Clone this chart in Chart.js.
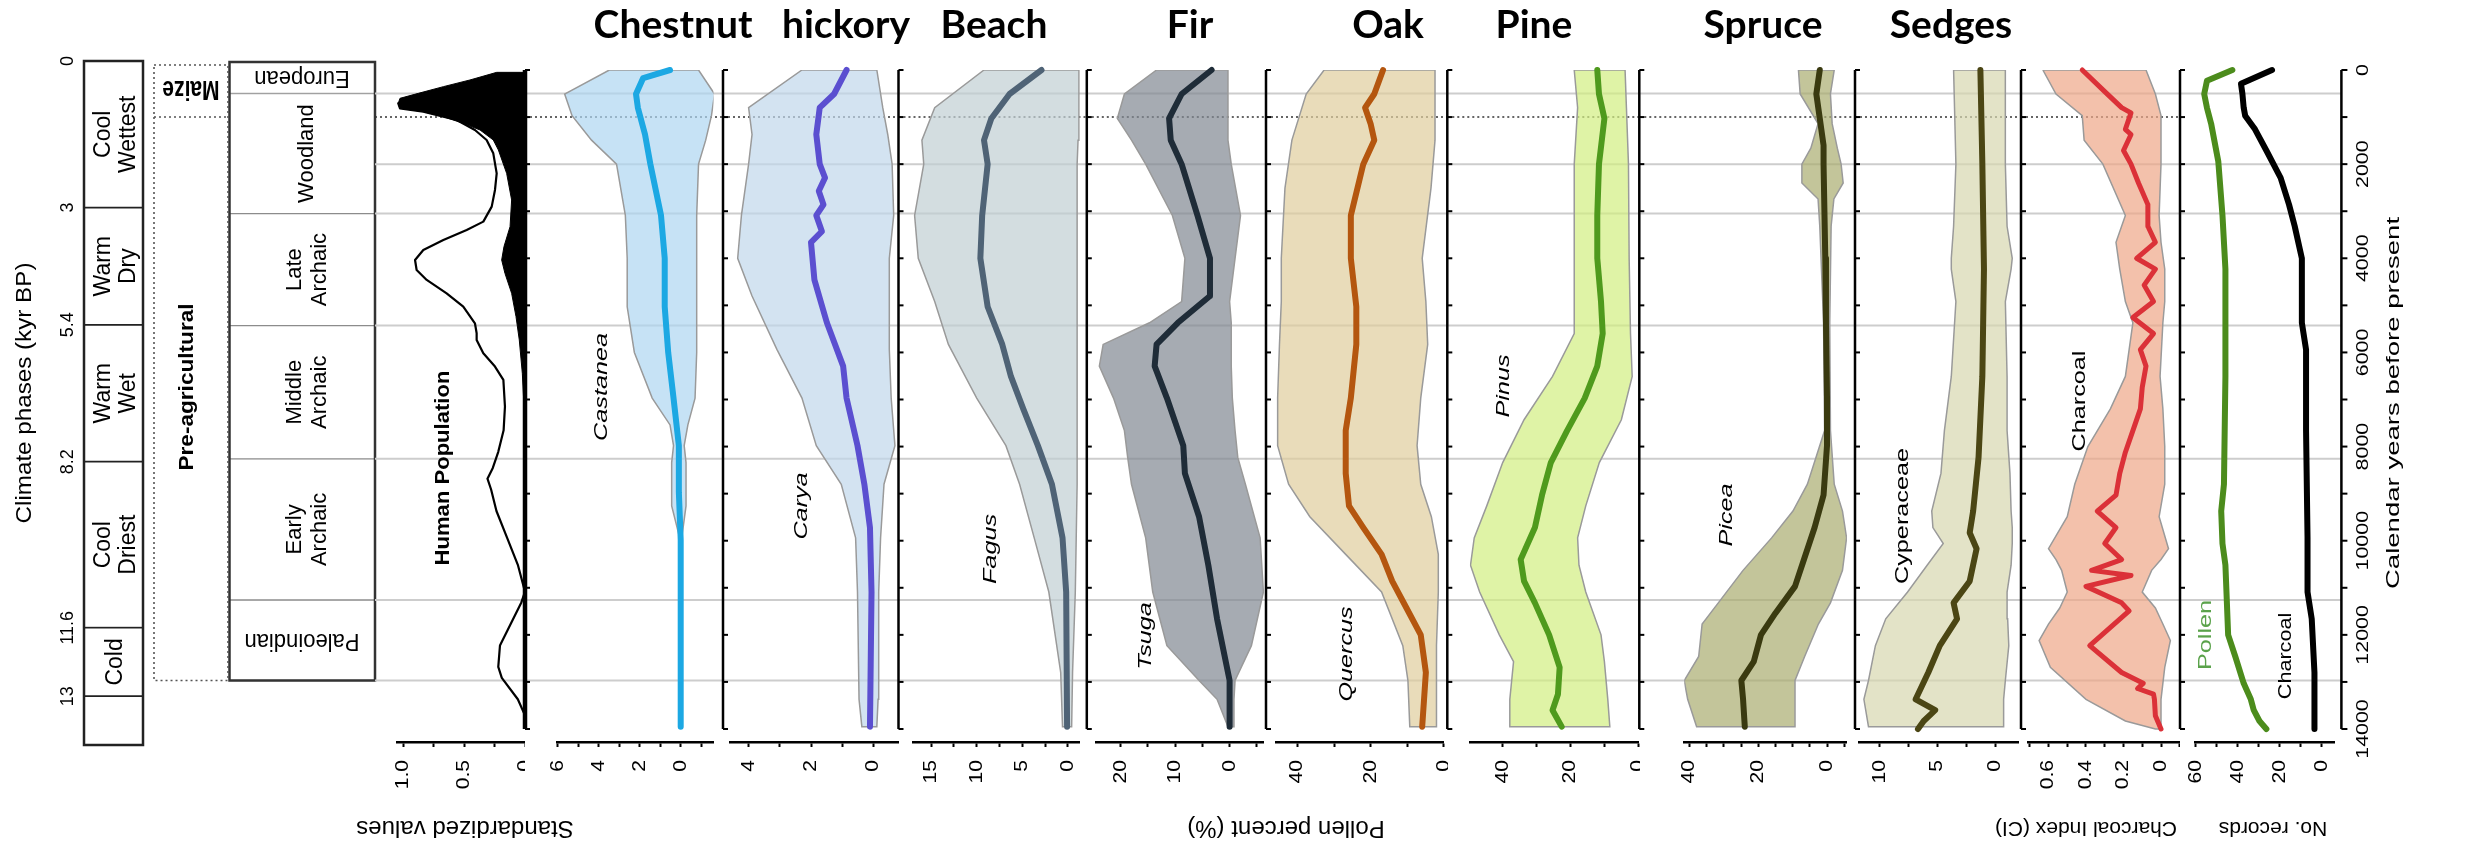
<!DOCTYPE html>
<html>
<head>
<meta charset="utf-8">
<script src="https://cdn.jsdelivr.net/npm/chart.js@4.4.1/dist/chart.umd.min.js"></script>
<style>
  html, body { margin: 0; padding: 0; background: #fff; }
  #page { position: relative; width: 2484px; height: 844px; overflow: hidden; background: #fff; }
  #page canvas { position: absolute; top: 0; }
</style>
</head>
<body>
<div id="page"></div>
<script>
// ---------------- data (years before present / values) ----------------
const gridYears = [500, 2000, 3050, 5430, 8260, 11260, 12970];
const maizeYear = 1000;
const yearTickMarks = [0, 1000, 2000, 3000, 4000, 5000, 6000, 7000, 8000, 9000, 10000, 11000, 12000, 13000, 14000];
const yearLabels = [0, 2000, 4000, 6000, 8000, 10000, 12000, 14000];

const climateBounds = [0, 3, 5.4, 8.2, 11.6, 13, 14];
const climateNames = ['Cool\nWettest', 'Warm\nDry', 'Warm\nWet', 'Cool\nDriest', 'Cold', ''];
const climateTickLabels = [0, 3, 5.4, 8.2, 11.6, 13];

const cultureEnds = [500, 3050, 5430, 8260, 11260, 12970];
const cultureNames = ['European', 'Woodland', 'Late\nArchaic', 'Middle\nArchaic', 'Early\nArchaic', 'Paleoindian'];

const taxaTitles = ['Chestnut', 'hickory', 'Beach', 'Fir', 'Oak', 'Pine', 'Spruce', 'Sedges'];
const axisTitles = ['Standardized values', 'Pollen percent (%)', 'Charcoal Index (CI)', 'No. records'];

const humanDatedYears = [50, 212, 354, 496, 602, 708, 814, 885, 991, 1133, 1274, 1487, 1699, 2195, 2761, 3328, 3752, 4036, 4319, 4744, 5239, 5735, 6443, 7151, 9000, 13800];
const humanDated = [0.233, 0.453, 0.672, 0.878, 1.029, 1.043, 1.029, 0.837, 0.672, 0.508, 0.37, 0.261, 0.219, 0.151, 0.11, 0.123, 0.173, 0.192, 0.165, 0.11, 0.074, 0.047, 0.022, 0.008, 0.004, 0.003];
const humanAllYears = [708, 814, 885, 991, 1062, 1274, 1487, 1770, 2195, 2549, 2903, 3221, 3398, 3611, 3823, 4036, 4248, 4460, 4744, 5027, 5381, 5593, 5735, 6018, 6301, 6584, 7151, 7655, 8112, 8454, 8683, 8912, 9369, 9940, 10512, 11083, 11312, 11769, 12226, 12682, 12912, 13368, 13710];
const humanAll = [1.043, 1.029, 0.837, 0.672, 0.562, 0.412, 0.316, 0.261, 0.233, 0.247, 0.274, 0.343, 0.48, 0.672, 0.837, 0.905, 0.892, 0.809, 0.645, 0.508, 0.412, 0.398, 0.398, 0.343, 0.247, 0.178, 0.165, 0.176, 0.22, 0.265, 0.309, 0.279, 0.235, 0.147, 0.059, 0, 0.03, 0.118, 0.206, 0.22, 0.191, 0.059, 0];

const chestnutYears = [0, 170, 510, 800, 1370, 2000, 3090, 4000, 5030, 6000, 6970, 7980, 8970, 9980, 13950];
const chestnutMedian = [0.52, 1.83, 2.18, 2.09, 1.74, 1.48, 0.96, 0.78, 0.78, 0.61, 0.35, 0.09, 0.09, 0, 0];
const chestnutEnvYears = [0, 510, 970, 1490, 2000, 3090, 4000, 5030, 6000, 6970, 7540, 7980, 8340, 9260, 9940, 13950];
const chestnutMax = [3.48, 5.66, 5.3, 4.35, 3.13, 2.7, 2.61, 2.61, 2.26, 1.39, 0.52, 0.35, 0.44, 0.44, 0.05, 0.05];
const chestnutMin = [-0.87, -1.65, -1.5, -1.22, -0.87, -0.78, -0.78, -0.78, -0.78, -0.7, -0.35, -0.17, -0.26, -0.26, -0.05, -0.05];

const hickoryYears = [0, 510, 800, 1370, 2000, 2290, 2570, 2860, 3090, 3430, 3660, 4460, 5370, 6290, 6970, 7980, 8800, 9720, 11090, 13950];
const hickoryMedian = [0.86, 1.26, 1.72, 1.83, 1.72, 1.55, 1.75, 1.6, 1.83, 1.65, 2.0, 1.89, 1.49, 0.97, 0.86, 0.51, 0.29, 0.11, 0.06, 0.11];
const hickoryEnvYears = [0, 800, 1370, 2000, 3090, 4000, 4800, 5940, 6970, 7980, 8800, 9940, 11090, 13370, 13950];
const hickoryMax = [2.29, 4.0, 3.89, 4.0, 4.23, 4.35, 3.89, 3.09, 2.29, 1.83, 1.03, 0.57, 0.51, 0.46, 0.37];
const hickoryMin = [-0.11, -0.3, -0.46, -0.6, -0.65, -0.51, -0.51, -0.51, -0.57, -0.69, -0.34, -0.23, -0.17, -0.15, -0.11];

const beachYears = [0, 510, 1030, 1490, 2000, 3090, 4000, 5030, 5830, 6510, 7200, 7980, 8800, 9940, 11090, 13950];
const beachMedian = [2.9, 6.4, 8.4, 9.2, 8.8, 9.4, 9.6, 8.8, 7.2, 6.25, 4.9, 3.3, 1.76, 0.6, 0.2, 0.1];
const beachEnvYears = [0, 800, 1490, 2000, 3090, 4000, 4920, 5830, 6970, 7980, 8800, 9940, 11090, 12800, 13950];
const beachMax = [9.2, 14.6, 16, 15.8, 16.8, 16.4, 14.6, 13.1, 10, 6.8, 5.3, 3.7, 2.1, 0.8, 0.6];
const beachMin = [-1.2, -1.2, -1.1, -1.0, -1.0, -1.0, -1.0, -1.0, -1.0, -1.0, -1.0, -0.9, -0.8, -0.5, -0.4];

const firYears = [0, 510, 1030, 1490, 2000, 3090, 4000, 4800, 5370, 5830, 6290, 6970, 7980, 8570, 9490, 10520, 11660, 12970, 13950];
const firMedian = [3.3, 8.8, 11.1, 10.8, 8.8, 5.9, 3.6, 3.6, 9.5, 13.4, 13.75, 11.5, 8.5, 8.2, 5.6, 3.9, 2.3, 0, 0];
const firEnvYears = [0, 510, 1030, 1490, 2000, 3090, 4000, 4920, 5370, 5830, 6290, 6970, 7660, 8230, 8800, 9940, 11090, 12230, 12970, 13370, 13950];
const firMax = [13.4, 19.3, 20.6, 18, 15.4, 10.5, 8.2, 8.8, 14.7, 23.2, 23.9, 21.3, 19.3, 18.7, 18, 15.4, 14.1, 11.5, 5.6, 2.3, 0.3];
const firMin = [0.3, 0.3, 0.3, 0.3, -0.3, -2.0, -1.0, 0, -0.3, -0.3, -0.3, -0.5, -1.0, -1.5, -2.9, -5.6, -6.2, -4.0, -1.0, -0.8, -0.65];

const oakYears = [0, 510, 800, 1140, 1490, 2000, 3090, 4000, 5030, 5830, 6970, 7660, 8570, 9260, 9720, 10290, 10860, 11430, 12000, 12800, 13950];
const oakMedian = [16.6, 19.0, 21.5, 20.0, 19.0, 22.0, 25.4, 25.4, 23.9, 23.9, 25.4, 26.8, 26.8, 25.9, 22.0, 17.0, 14.1, 10.2, 6.3, 4.9, 5.9];
const oakEnvYears = [0, 510, 1490, 2510, 4000, 4920, 5830, 6970, 7980, 8800, 9490, 10290, 11090, 12230, 12970, 13950];
const oakMax = [32.7, 37.6, 41.5, 43.4, 44.4, 44.4, 44.9, 45.4, 45.4, 42.4, 36.6, 26.8, 17, 11.2, 9.8, 9.3];
const oakMin = [2.4, 2.4, 2.4, 3.5, 5.9, 4.9, 4.4, 6.3, 7.3, 6.3, 3.4, 1.5, 1.5, 2, 2, 2];

const pineYears = [0, 510, 1030, 2000, 3090, 4000, 4920, 5600, 6290, 6970, 7660, 8340, 9030, 9720, 10400, 10860, 11320, 12000, 12690, 13260, 13600, 13950];
const pineMedian = [12.1, 11.6, 10.0, 11.6, 12.1, 12.1, 11.0, 10.5, 12.1, 15.8, 21.0, 25.8, 28.4, 30.5, 34.7, 33.7, 30.5, 26.3, 23.2, 23.7, 25.3, 22.6];
const pineEnvYears = [0, 800, 2000, 4000, 5600, 6510, 7430, 8340, 9260, 9940, 10520, 11090, 12000, 12570, 13370, 13950];
const pineMax = [18.9, 17.9, 18.9, 18.9, 18.9, 25.3, 33.7, 40, 44.7, 48.4, 49.5, 46.8, 41, 36.8, 37.9, 37.9];
const pineMin = [3.9, 3.5, 2.9, 2.7, 2.3, 1.8, 5.0, 11.5, 15.5, 17.9, 17.5, 15.5, 11.0, 10, 9, 8.4];

const spruceYears = [0, 510, 1030, 1600, 2000, 4000, 5370, 6970, 7980, 9030, 9720, 10400, 10970, 11540, 12000, 12570, 12970, 13370, 13950];
const spruceMedian = [2.1, 3.1, 2.1, 1.0, 1.0, 0.5, 0.3, 0, 0, 1.0, 3.6, 6.7, 9.3, 15, 19.2, 21.3, 24.9, 24.4, 23.9];
const spruceEnvYears = [0, 510, 1140, 1660, 2000, 2400, 2740, 3320, 5370, 7660, 8800, 9370, 9940, 10630, 11320, 11770, 12460, 12970, 13370, 13950];
const spruceMax = [8.3, 7.8, 2.6, 4.7, 7.3, 7.3, 2.6, 2.1, 1.0, 0.7, 5.7, 9.9, 16.1, 24.4, 31.6, 36.3, 37.3, 41.5, 40.5, 37.9];
const spruceMin = [-2.1, -1.0, -1.5, -3.0, -4.1, -4.7, -2.0, -1.2, -0.8, -1.0, -2.1, -4.5, -5.7, -4.5, -1.0, 2.5, 6.5, 9.3, 9.3, 9.3];

const sedgesYears = [0, 2000, 4230, 6510, 8230, 9370, 9830, 10170, 10860, 11320, 11660, 12230, 12800, 13370, 13600, 13830, 14000];
const sedgesMedian = [1.27, 1.1, 0.96, 1.1, 1.43, 1.9, 2.2, 1.6, 2.2, 3.6, 3.3, 4.8, 5.8, 6.9, 5.2, 6.2, 6.7];
const sedgesEnvYears = [0, 2000, 3320, 4000, 4230, 4920, 6510, 7660, 8570, 9370, 9720, 10060, 10520, 11090, 11660, 12230, 12970, 13370, 13950];
const sedgesMax = [3.6, 3.4, 3.6, 3.8, 3.8, 3.4, 3.8, 4.4, 4.7, 5.5, 5.4, 4.5, 5.9, 7.6, 9.5, 10.4, 11, 11.4, 11];
const sedgesMin = [-0.9, -0.9, -1.05, -1.5, -1.4, -0.9, -1.05, -1.05, -1.3, -1.4, -1.5, -1.5, -1.4, -1.05, -1.1, -1.2, -0.9, -0.75, -0.75];

const charcoalYears = [0, 460, 800, 910, 1260, 1370, 1710, 2000, 2400, 2860, 3320, 3660, 4000, 4230, 4570, 4920, 5260, 5600, 5940, 6290, 6740, 7200, 7660, 8120, 8570, 9030, 9370, 9720, 10060, 10400, 10630, 10740, 10970, 11320, 11490, 12230, 12800, 13030, 13140, 13260, 13370, 13720, 14000];
const charcoalMedian = [0.42, 0.30, 0.21, 0.16, 0.19, 0.16, 0.20, 0.16, 0.12, 0.07, 0.07, 0.03, 0.13, 0.03, 0.09, 0.04, 0.15, 0.04, 0.11, 0.08, 0.10, 0.11, 0.15, 0.19, 0.22, 0.24, 0.34, 0.24, 0.30, 0.21, 0.37, 0.16, 0.40, 0.21, 0.17, 0.38, 0.21, 0.095, 0.125, 0.04, 0.035, 0.03, 0.0];
const charcoalEnvYears = [0, 510, 970, 1490, 2000, 3090, 3660, 4230, 4920, 5370, 6510, 7200, 8000, 8800, 9490, 10170, 10400, 10630, 11090, 11430, 11770, 12120, 12690, 13370, 13830, 14000];
const charcoalMax = [0.63, 0.56, 0.42, 0.41, 0.31, 0.19, 0.24, 0.22, 0.19, 0.15, 0.19, 0.27, 0.39, 0.46, 0.50, 0.60, 0.56, 0.53, 0.50, 0.54, 0.60, 0.65, 0.59, 0.40, 0.19, 0.03];
const charcoalMin = [0.08, 0.03, 0, 0, 0, 0.01, 0, -0.02, -0.02, -0.01, 0.005, -0.01, -0.02, -0.02, 0.01, -0.04, 0.0, 0.05, 0.1, 0.03, -0.01, -0.05, -0.02, 0.0, 0.0, 0.0];

const pollenRecordYears = [0, 230, 510, 800, 1140, 1940, 3090, 4230, 6510, 8800, 9370, 10060, 10520, 12000, 12460, 13030, 13370, 13600, 13830, 14000];
const pollenRecords = [42.5, 54.6, 55.9, 54.6, 52.6, 49.2, 47.2, 45.8, 45.8, 46.5, 47.8, 47.2, 45.8, 44.5, 41.1, 37.1, 33.7, 32.3, 29.6, 26.3];
const charcoalRecordYears = [0, 290, 510, 800, 970, 1260, 1710, 2290, 2860, 3320, 4000, 5370, 5940, 7660, 9940, 11090, 11660, 12800, 14000];
const charcoalRecords = [23.6, 38.4, 37.7, 37.1, 36.4, 31.7, 26.3, 19.5, 15.5, 12.8, 9.4, 9.4, 7.4, 7.4, 6.7, 6.7, 4.7, 3.4, 3.4];

// ---------------- layout ----------------
const PAGE_W = 2484, PAGE_H = 844;
const Y_TOP = 70;                  // pixel row of year 0
const PX_PER_YEAR = 659 / 14000;
const AXIS_Y = 742;                // bottom value axes
const AXIS_H = 60;
const YEAR_MAX = (AXIS_Y - Y_TOP) / PX_PER_YEAR;
const SANS = '"Liberation Sans", Arial, Helvetica, sans-serif';
const TITLE_FONT = 'Lato, "Open Sans", sans-serif';
const GRID_COLOR = '#cdcdcd';
const titleX = [673, 846, 994, 1190, 1388, 1534, 1763, 1951];
const axisTitleX = [465, 1286, 2086, 2273];
const axisTitleSize = [24, 24, 21, 21];
const TICK_FONT = { size: 18, rot: -90, sx: 1.17, align: 'right' };

function addCanvas(left, width) {
  const c = document.createElement('canvas');
  c.width = Math.round(width);
  c.height = PAGE_H;
  c.style.left = left + 'px';
  c.style.width = Math.round(width) + 'px';
  c.style.height = PAGE_H + 'px';
  document.getElementById('page').appendChild(c);
  return c;
}

function baseOptions(extra) {
  return Object.assign({
    responsive: false, animation: false, events: [], devicePixelRatio: 1,
    plugins: { legend: { display: false }, tooltip: { enabled: false } }
  }, extra);
}

function drawText(ctx, str, x, y, o) {
  const lines = String(str).split('\n');
  const lh = o.lh || o.size * 1.1;
  const sy = o.sy || 1;
  ctx.save();
  ctx.translate(x, y);
  ctx.rotate((o.rot || 0) * Math.PI / 180);
  ctx.scale(o.sx || 1, sy);
  ctx.font = (o.italic ? 'italic ' : '') + (o.bold ? 'bold ' : '') + o.size + 'px ' + (o.family || SANS);
  ctx.fillStyle = o.color || '#000';
  ctx.textAlign = o.align || 'center';
  ctx.textBaseline = o.baseline || 'middle';
  lines.forEach((ln, i) => ctx.fillText(ln, 0, (i - (lines.length - 1) / 2) * lh / sy));
  ctx.restore();
}

function seg(ctx, x1, y1, x2, y2) {
  ctx.beginPath();
  ctx.moveTo(x1, y1);
  ctx.lineTo(x2, y2);
  ctx.stroke();
}

function bandDataset(years, hi, lo, color) {
  const pts = years.map((y, i) => ({ x: hi[i], y: y }));
  for (let i = years.length - 1; i >= 0; i--) pts.push({ x: lo[i], y: years[i] });
  pts.push({ x: hi[0], y: years[0] });
  return { data: pts, fill: 'shape', backgroundColor: color, borderColor: '#9a9a9a', borderWidth: 1.5, pointRadius: 0, tension: 0 };
}

function lineDataset(years, vals, color, width) {
  return { data: years.map((y, i) => ({ x: vals[i], y: y })), borderColor: color, borderWidth: width, pointRadius: 0,
           fill: false, tension: 0, borderJoinStyle: 'round', borderCapStyle: 'round', clip: false };
}

function fmtTick(v, digits) {
  if (Math.abs(v) < 1e-9) return '0';
  return digits ? v.toFixed(digits) : String(Math.round(v));
}

function panelDecor(p, left) {
  const L = v => v - left;
  return {
    id: 'panelDecor',
    beforeDatasetsDraw(chart) {
      const ctx = chart.ctx, ys = chart.scales.y;
      ctx.save();
      ctx.strokeStyle = GRID_COLOR;
      ctx.lineWidth = 2;
      gridYears.forEach(yr => { const py = ys.getPixelForValue(yr); seg(ctx, L(p.gridStart), py, L(p.gridEnd), py); });
      if (p.maize) {
        ctx.strokeStyle = '#333';
        ctx.lineWidth = 1.6;
        ctx.setLineDash([2, 3]);
        const py = ys.getPixelForValue(maizeYear);
        seg(ctx, L(p.gridStart), py, L(p.gridEnd), py);
      }
      ctx.restore();
    },
    afterDatasetsDraw(chart) {
      const ctx = chart.ctx, ys = chart.scales.y, xs = chart.scales.x;
      const y0 = ys.getPixelForValue(0), y1 = ys.getPixelForValue(14000);
      ctx.save();
      ctx.strokeStyle = '#000';
      if (p.axisW) {
        const ax = L(p.gridStart);
        ctx.lineWidth = p.axisW;
        seg(ctx, ax, y0, ax, y1);
        ctx.lineWidth = 2;
        yearTickMarks.forEach(yr => { const py = ys.getPixelForValue(yr); seg(ctx, ax, py, ax + 5, py); });
      }
      if (p.rightAxisX) {
        const ax = L(p.rightAxisX);
        ctx.lineWidth = 2.5;
        seg(ctx, ax, y0, ax, y1);
        ctx.lineWidth = 2;
        yearTickMarks.forEach(yr => { const py = ys.getPixelForValue(yr); seg(ctx, ax, py, ax + 6, py); });
        yearLabels.forEach(yr => drawText(ctx, yr, L(2363), ys.getPixelForValue(yr), { size: 17, rot: -90, sx: 1.26 }));
        drawText(ctx, 'Calendar years before present', L(2394), 403, { size: 19, rot: -90, sx: 1.45 });
      }
      ctx.restore();
      xs.ticks.forEach(t => {
        const k = t.value / p.labelStep;
        if (Math.abs(k - Math.round(k)) > 1e-6) return;
        drawText(ctx, fmtTick(t.value, p.digits), xs.getPixelForValue(t.value), chart.chartArea.bottom + 18, TICK_FONT);
      });
      (p.labels || []).forEach(l => drawText(ctx, l.text, L(l.x), l.y,
        { size: l.size || 18, rot: -90, sx: l.sx || 1.4, italic: l.italic, bold: l.bold, color: l.color }));
    }
  };
}

function buildPanel(p) {
  const xa = p.zero - p.max * p.ppu;
  const xb = p.zero - p.min * p.ppu;
  const left = Math.floor(Math.min(p.gridStart - 8, xa));
  const right = Math.ceil(Math.max(p.gridEnd, xb, p.canvasRight || 0));
  const canvas = addCanvas(left, right - left);
  return new Chart(canvas, {
    type: 'line',
    data: { datasets: p.datasets },
    options: baseOptions({
      layout: { padding: { left: xa - left, right: right - xb, top: Y_TOP, bottom: PAGE_H - AXIS_Y - AXIS_H } },
      scales: {
        x: {
          type: 'linear', reverse: true, min: p.min, max: p.max,
          afterFit: s => { s.height = AXIS_H; },
          ticks: { display: false, stepSize: p.step, includeBounds: false, autoSkip: false },
          grid: { drawOnChartArea: false, drawTicks: true, tickLength: 5, tickWidth: 2, tickColor: '#000' },
          border: { display: true, color: '#000', width: 2.5 }
        },
        y: { type: 'linear', reverse: true, min: 0, max: YEAR_MAX, display: false }
      }
    }),
    plugins: [panelDecor(p, left)]
  });
}

// ---------------- frame: titles ----------------
new Chart(addCanvas(0, PAGE_W), {
  type: 'line',
  data: { datasets: [] },
  options: baseOptions({ scales: { x: { display: false }, y: { display: false } } }),
  plugins: [{
    id: 'frameText',
    afterDraw(chart) {
      const ctx = chart.ctx;
      taxaTitles.forEach((t, i) => drawText(ctx, t, titleX[i], 38, { size: 39, bold: true, family: TITLE_FONT, baseline: 'alphabetic' }));
      axisTitles.forEach((t, i) => drawText(ctx, t, axisTitleX[i], 828, { size: axisTitleSize[i], rot: 180 }));
    }
  }]
});

// ---------------- climate phases table ----------------
(function () {
  const left = 0, width = 150;
  new Chart(addCanvas(left, width), {
    type: 'bar',
    data: {
      labels: ['phase'],
      datasets: climateNames.map((n, i) => ({
        data: [[climateBounds[i], climateBounds[i + 1]]],
        backgroundColor: '#fff', borderColor: '#222',
        borderWidth: { top: 1.2, bottom: 1.2, left: 0, right: 0 }, borderSkipped: false,
        grouped: false, barPercentage: 1, categoryPercentage: 1
      }))
    },
    options: baseOptions({
      layout: { padding: { left: 84, right: width - 143, top: 61, bottom: PAGE_H - 745 } },
      scales: { x: { display: false }, y: { display: false, reverse: true, min: 0, max: 14 } }
    }),
    plugins: [{
      id: 'climateDecor',
      afterDatasetsDraw(chart) {
        const ctx = chart.ctx, a = chart.chartArea, ys = chart.scales.y;
        ctx.save();
        ctx.strokeStyle = '#222';
        ctx.lineWidth = 2.5;
        ctx.strokeRect(a.left, a.top, a.right - a.left, a.bottom - a.top);
        ctx.restore();
        climateNames.forEach((n, i) => {
          if (!n) return;
          const cy = (ys.getPixelForValue(climateBounds[i]) + ys.getPixelForValue(climateBounds[i + 1])) / 2;
          drawText(ctx, n, 116, cy, { size: 23, rot: -90, lh: 25 });
        });
        climateTickLabels.forEach(v => drawText(ctx, v, 68, ys.getPixelForValue(v), { size: 18, rot: -90 }));
        drawText(ctx, 'Climate phases (kyr BP)', 25, 393, { size: 22, rot: -90, sx: 1.1 });
      }
    }]
  });
})();

// ---------------- cultural periods + pre-agricultural box ----------------
(function () {
  const left = 148, width = 232;
  const cultMin = -8 / PX_PER_YEAR;
  const L = v => v - left;
  new Chart(addCanvas(left, width), {
    type: 'bar',
    data: {
      labels: ['period'],
      datasets: cultureNames.map((n, i) => ({
        data: [[i === 0 ? cultMin : cultureEnds[i - 1], cultureEnds[i]]],
        backgroundColor: '#fff', borderColor: '#8c8c8c',
        borderWidth: { top: 1, bottom: 1, left: 0, right: 0 }, borderSkipped: false,
        grouped: false, barPercentage: 1, categoryPercentage: 1
      }))
    },
    options: baseOptions({
      layout: { padding: { left: 229.5 - left, right: left + width - 375, top: 62, bottom: PAGE_H - AXIS_Y } },
      scales: { x: { display: false }, y: { display: false, reverse: true, min: cultMin, max: YEAR_MAX } }
    }),
    plugins: [{
      id: 'cultureDecor',
      afterDatasetsDraw(chart) {
        const ctx = chart.ctx, a = chart.chartArea, ys = chart.scales.y;
        const bottom = ys.getPixelForValue(cultureEnds[cultureEnds.length - 1]);
        ctx.save();
        ctx.strokeStyle = '#333';
        ctx.lineWidth = 2.5;
        ctx.strokeRect(a.left, a.top, a.right - a.left, bottom - a.top);
        // dotted pre-agricultural box with the maize line
        ctx.strokeStyle = '#555';
        ctx.lineWidth = 1.6;
        ctx.setLineDash([2, 3]);
        ctx.strokeRect(L(154), a.top + 3, 74, bottom - a.top - 3);
        const my = ys.getPixelForValue(maizeYear);
        seg(ctx, L(154), my, L(228), my);
        ctx.restore();
        cultureNames.forEach((n, i) => {
          const top = i === 0 ? a.top : ys.getPixelForValue(cultureEnds[i - 1]);
          const cy = (top + ys.getPixelForValue(cultureEnds[i])) / 2;
          const flipped = i === 0 || i === cultureNames.length - 1;
          if (flipped) drawText(ctx, n, L(302), cy, { size: 22, rot: 180, sy: 1.1 });
          else drawText(ctx, n, L(307), cy, { size: 22, rot: -90, lh: 25 });
        });
        drawText(ctx, 'Maize', L(191), 89, { size: 21, bold: true, rot: 180, sy: 1.35 });
        drawText(ctx, 'Pre-agricultural', L(187), 387, { size: 20, bold: true, rot: -90, sx: 1.13 });
      }
    }]
  });
})();

// ---------------- human population ----------------
(function () {
  const pts = humanDatedYears.map((y, i) => ({ x: humanDated[i], y: y }));
  pts.push({ x: 0, y: humanDatedYears[humanDatedYears.length - 1] }, { x: 0, y: humanDatedYears[0] }, { x: humanDated[0], y: humanDatedYears[0] });
  buildPanel({
    gridStart: 375, gridEnd: 525, maize: true,
    zero: 525, ppu: 121.5, min: 0, max: 1.05, step: 0.25, labelStep: 0.5, digits: 1,
    // Chart.js paints the first dataset last, so the outline sits on top of the filled area
    datasets: [
      lineDataset(humanAllYears, humanAll, '#000', 2.2),
      { data: pts, fill: 'shape', backgroundColor: '#000', borderColor: '#000', borderWidth: 1, pointRadius: 0, tension: 0 }
    ],
    labels: [{ text: 'Human Population', x: 443, y: 468, bold: true, size: 21, sx: 1.05 }]
  });
})();

// ---------------- pollen / charcoal panels ----------------
const panelSpecs = [
  { gridStart: 525, gridEnd: 723, axisW: 4.5, zero: 680.7, ppu: 20.5, min: -1.6, max: 6.0, step: 1, labelStep: 2,
    band: 'rgba(174,214,241,0.7)', color: '#1ca8e3',
    y: chestnutYears, v: chestnutMedian, ey: chestnutEnvYears, hi: chestnutMax, lo: chestnutMin,
    labels: [{ text: 'Castanea', x: 602, y: 387, italic: true }] },
  { gridStart: 723, gridEnd: 898.5, axisW: 2.5, zero: 873.4, ppu: 31.2, min: -0.8, max: 4.6, step: 1, labelStep: 2,
    band: 'rgba(192,215,235,0.7)', color: '#5b4fd0',
    y: hickoryYears, v: hickoryMedian, ey: hickoryEnvYears, hi: hickoryMax, lo: hickoryMin,
    labels: [{ text: 'Carya', x: 802, y: 506, italic: true }] },
  { gridStart: 898.5, gridEnd: 1086.8, axisW: 2.5, zero: 1068, ppu: 9.13, min: -1.3, max: 17, step: 2.5, labelStep: 5,
    band: 'rgba(192,206,211,0.7)', color: '#4f6376',
    y: beachYears, v: beachMedian, ey: beachEnvYears, hi: beachMax, lo: beachMin,
    labels: [{ text: 'Fagus', x: 991, y: 549, italic: true }] },
  { gridStart: 1086.8, gridEnd: 1266, axisW: 2.5, zero: 1229.6, ppu: 5.45, min: -6.3, max: 24.5, step: 5, labelStep: 10,
    band: 'rgba(128,135,146,0.7)', color: '#1f2c38',
    y: firYears, v: firMedian, ey: firEnvYears, hi: firMax, lo: firMin,
    labels: [{ text: 'Tsuga', x: 1146, y: 636, italic: true }] },
  { gridStart: 1266, gridEnd: 1447.3, axisW: 2.5, zero: 1443.8, ppu: 3.66, min: 0, max: 45.9, step: 10, labelStep: 20,
    band: 'rgba(224,205,156,0.7)', color: '#b4560f',
    y: oakYears, v: oakMedian, ey: oakEnvYears, hi: oakMax, lo: oakMin,
    labels: [{ text: 'Quercus', x: 1347, y: 654, italic: true }] },
  { gridStart: 1447.3, gridEnd: 1639.3, axisW: 2.5, zero: 1638.3, ppu: 3.39, min: 0, max: 49.7, step: 10, labelStep: 20,
    band: 'rgba(209,238,128,0.7)', color: '#4f9a1d',
    y: pineYears, v: pineMedian, ey: pineEnvYears, hi: pineMax, lo: pineMin,
    labels: [{ text: 'Pinus', x: 1504, y: 386, italic: true }] },
  { gridStart: 1639.3, gridEnd: 1855, axisW: 2.5, zero: 1827, ppu: 3.44, min: -5.8, max: 41.5, step: 5, labelStep: 20,
    band: 'rgba(169,172,111,0.7)', color: '#3a3a10',
    y: spruceYears, v: spruceMedian, ey: spruceEnvYears, hi: spruceMax, lo: spruceMin,
    labels: [{ text: 'Picea', x: 1727, y: 515, italic: true }] },
  { gridStart: 1855, gridEnd: 2021, axisW: 2.5, zero: 1995, ppu: 11.5, min: -2, max: 11.8, step: 2.5, labelStep: 5,
    band: 'rgba(215,215,175,0.7)', color: '#4b4614',
    y: sedgesYears, v: sedgesMedian, ey: sedgesEnvYears, hi: sedgesMax, lo: sedgesMin,
    labels: [{ text: 'Cyperaceae', x: 1903, y: 516 }] },
  { gridStart: 2021, gridEnd: 2180, axisW: 2.5, zero: 2161, ppu: 187.5, min: -0.1, max: 0.71, step: 0.1, labelStep: 0.2, digits: 1,
    band: 'rgba(238,166,136,0.7)', color: '#db3138', lineW: 5,
    y: charcoalYears, v: charcoalMedian, ey: charcoalEnvYears, hi: charcoalMax, lo: charcoalMin,
    labels: [{ text: 'Charcoal', x: 2080, y: 401 }] }
];

panelSpecs.forEach(p => {
  p.maize = true;
  // median first so it is painted over the band
  p.datasets = [lineDataset(p.y, p.v, p.color, p.lineW || 6), bandDataset(p.ey, p.hi, p.lo, p.band)];
  buildPanel(p);
});

// ---------------- number of records + time axis ----------------
buildPanel({
  gridStart: 2180, gridEnd: 2341.4, canvasRight: PAGE_W, axisW: 2.5, rightAxisX: 2341.4,
  zero: 2321.6, ppu: 2.1, min: -6, max: 60.3, step: 10, labelStep: 20,
  datasets: [
    lineDataset(pollenRecordYears, pollenRecords, '#4c8c1c', 6),
    lineDataset(charcoalRecordYears, charcoalRecords, '#000', 6)
  ],
  labels: [
    { text: 'Pollen', x: 2206, y: 635, color: '#5aa24a' },
    { text: 'Charcoal', x: 2286, y: 656, sx: 1.2 }
  ]
});
</script>
</body>
</html>
